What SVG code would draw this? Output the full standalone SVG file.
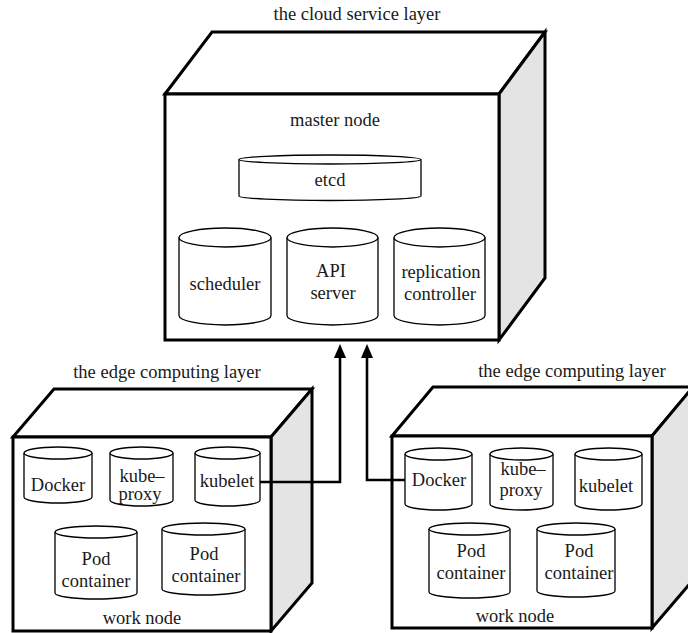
<svg xmlns="http://www.w3.org/2000/svg" width="688" height="633" viewBox="0 0 688 633">
  <style>
    .face { fill: #ffffff; stroke: #000000; stroke-width: 3; stroke-linejoin: miter; }
    .side { fill: #e4e4e4; stroke: #000000; stroke-width: 3; stroke-linejoin: miter; }
    .cyl { fill: #ffffff; stroke: #000000; stroke-width: 1.3; }
    .lbl { font-size: 18.5px; fill: #1a1a1a; text-anchor: middle; }
    .wire { fill: none; stroke: #000000; stroke-width: 2.6; }
  </style>
  <defs>
    <marker id="arrow" markerWidth="14" markerHeight="12" refX="2" refY="6" orient="auto" markerUnits="userSpaceOnUse">
      <path d="M0,0 L14,6 L0,12 z" fill="#000000"/>
    </marker>
  </defs>
  <rect width="688" height="633" fill="#ffffff"/>

  <g font-family="'Liberation Serif', 'DejaVu Serif', serif">
  <!-- cloud service layer: master node -->
  <g id="master-node">
    <text class="lbl" x="357" y="20">the cloud service layer</text>
    <polygon class="face" points="165,94 212,32 545,32 499,94"/>
    <polygon class="side" points="499,94 545,32 545,278 499,340"/>
    <rect class="face" x="165" y="94" width="334" height="246"/>
    <text class="lbl" x="335" y="126">master node</text>
  </g>

  <g id="etcd">
    <path class="cyl" d="M239,159.5 V196 A91,4.5 0 0 0 421,196 V159.5"/>
    <ellipse class="cyl" cx="330" cy="159.5" rx="91" ry="4.5"/>
    <text class="lbl" x="330" y="186">etcd</text>
  </g>
  <g id="scheduler">
    <path class="cyl" d="M179,237.5 V315.5 A46,9.5 0 0 0 271,315.5 V237.5"/>
    <ellipse class="cyl" cx="225" cy="237.5" rx="46" ry="9.5"/>
    <text class="lbl" x="225" y="290">scheduler</text>
  </g>
  <g id="api-server">
    <path class="cyl" d="M287,237.5 V315.5 A45.5,9.5 0 0 0 378,315.5 V237.5"/>
    <ellipse class="cyl" cx="332.5" cy="237.5" rx="45.5" ry="9.5"/>
    <text class="lbl" x="331" y="277">API</text>
    <text class="lbl" x="333" y="299">server</text>
  </g>
  <g id="replication-controller">
    <path class="cyl" d="M394,237.5 V315.5 A45.5,9.5 0 0 0 485,315.5 V237.5"/>
    <ellipse class="cyl" cx="439.5" cy="237.5" rx="45.5" ry="9.5"/>
    <text class="lbl" x="441" y="278">replication</text>
    <text class="lbl" x="440" y="300">controller</text>
  </g>

  <!-- edge computing layer: left work node -->
  <g id="work-node-left">
    <text class="lbl" x="167" y="378">the edge computing layer</text>
    <polygon class="face" points="13,437 54,389 312,389 271,437"/>
    <polygon class="side" points="271,437 312,389 312,583 271,631"/>
    <rect class="face" x="13" y="437" width="258" height="194"/>
    <text class="lbl" x="142" y="624">work node</text>
  </g>
  <g id="docker-left">
    <path class="cyl" d="M24,453 V497 A34,6 0 0 0 92,497 V453"/>
    <ellipse class="cyl" cx="58" cy="453" rx="34" ry="6"/>
    <text class="lbl" x="58" y="491">Docker</text>
  </g>
  <g id="kube-proxy-left">
    <path class="cyl" d="M110,453 V500 A31.5,6 0 0 0 173,500 V453"/>
    <ellipse class="cyl" cx="141.5" cy="453" rx="31.5" ry="6"/>
    <text class="lbl" x="142" y="482">kube–</text>
    <text class="lbl" x="140" y="500">proxy</text>
  </g>
  <g id="kubelet-left">
    <path class="cyl" d="M195,453 V500 A32.5,6 0 0 0 260,500 V453"/>
    <ellipse class="cyl" cx="227.5" cy="453" rx="32.5" ry="6"/>
    <text class="lbl" x="227" y="487">kubelet</text>
  </g>
  <g id="pod-left-1">
    <path class="cyl" d="M55,532 V593 A41,6 0 0 0 137,593 V532"/>
    <ellipse class="cyl" cx="96" cy="532" rx="41" ry="6"/>
    <text class="lbl" x="96" y="565">Pod</text>
    <text class="lbl" x="96" y="587">container</text>
  </g>
  <g id="pod-left-2">
    <path class="cyl" d="M162,529 V589 A41.5,6 0 0 0 245,589 V529"/>
    <ellipse class="cyl" cx="203.5" cy="529" rx="41.5" ry="6"/>
    <text class="lbl" x="204" y="560">Pod</text>
    <text class="lbl" x="206" y="582">container</text>
  </g>

  <!-- edge computing layer: right work node -->
  <g id="work-node-right">
    <text class="lbl" x="572" y="377">the edge computing layer</text>
    <polygon class="face" points="392,436 433,387 693,387 652,436"/>
    <polygon class="side" points="652,436 693,387 693,580 652,628"/>
    <rect class="face" x="392" y="436" width="260" height="192"/>
    <text class="lbl" x="515" y="622">work node</text>
  </g>
  <g id="docker-right">
    <path class="cyl" d="M405,454 V504 A33.5,6 0 0 0 472,504 V454"/>
    <ellipse class="cyl" cx="438.5" cy="454" rx="33.5" ry="6"/>
    <text class="lbl" x="439" y="486">Docker</text>
  </g>
  <g id="kube-proxy-right">
    <path class="cyl" d="M490,454 V504 A31.5,6 0 0 0 553,504 V454"/>
    <ellipse class="cyl" cx="521.5" cy="454" rx="31.5" ry="6"/>
    <text class="lbl" x="523" y="475">kube–</text>
    <text class="lbl" x="521" y="496">proxy</text>
  </g>
  <g id="kubelet-right">
    <path class="cyl" d="M575,454 V504 A33.5,6 0 0 0 642,504 V454"/>
    <ellipse class="cyl" cx="608.5" cy="454" rx="33.5" ry="6"/>
    <text class="lbl" x="606" y="492">kubelet</text>
  </g>
  <g id="pod-right-1">
    <path class="cyl" d="M429,529 V592 A40.5,6 0 0 0 510,592 V529"/>
    <ellipse class="cyl" cx="469.5" cy="529" rx="40.5" ry="6"/>
    <text class="lbl" x="471" y="557">Pod</text>
    <text class="lbl" x="471" y="579">container</text>
  </g>
  <g id="pod-right-2">
    <path class="cyl" d="M537,529 V591 A39,6 0 0 0 615,591 V529"/>
    <ellipse class="cyl" cx="576" cy="529" rx="39" ry="6"/>
    <text class="lbl" x="579" y="557">Pod</text>
    <text class="lbl" x="579" y="579">container</text>
  </g>
  </g>

  <!-- kubelet / Docker links up to the API server -->
  <g id="connectors">
    <path class="wire" d="M260,482 H340 V356" marker-end="url(#arrow)"/>
    <path class="wire" d="M405,480 H367 V356" marker-end="url(#arrow)"/>
  </g>
</svg>
